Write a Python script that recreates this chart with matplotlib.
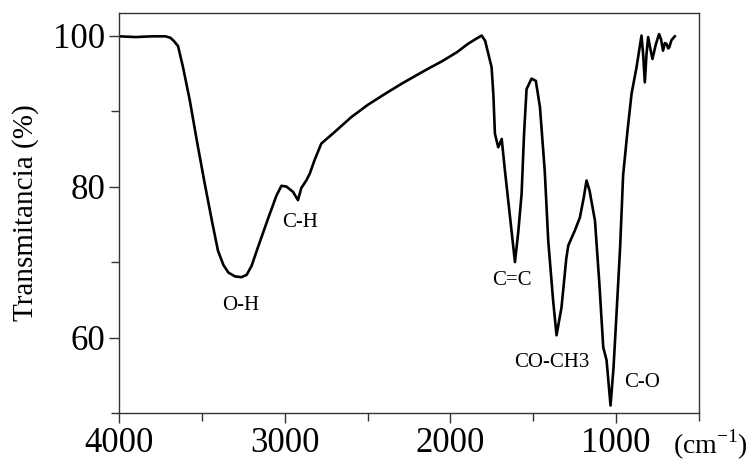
import matplotlib
matplotlib.use("Agg")
import matplotlib.pyplot as plt
from matplotlib.ticker import MultipleLocator

plt.rcParams['font.family'] = ['Liberation Serif', 'DejaVu Serif']
plt.rcParams['mathtext.fontset'] = 'custom'
plt.rcParams['mathtext.rm'] = 'Liberation Serif'

wavenumber = [4000, 3900, 3800, 3720, 3690, 3670, 3644, 3614, 3573, 3530, 3483, 3440, 3403,
              3370, 3340, 3300, 3262, 3230, 3200, 3161, 3100, 3050, 3020, 2990, 2950, 2920,
              2900, 2870, 2849, 2820, 2779, 2700, 2598, 2500, 2400, 2296, 2200, 2135,
              2050, 1960, 1894, 1850, 1811, 1790, 1751, 1740, 1731, 1711, 1690, 1670,
              1640, 1610, 1590, 1570, 1555, 1540, 1510, 1484, 1459, 1430, 1409, 1380,
              1359, 1329, 1300, 1288, 1248, 1218, 1195, 1178, 1160, 1127, 1100, 1077,
              1057, 1033, 1015, 997, 975, 957, 930, 906, 876, 846, 836, 826, 816, 806,
              795, 780, 760, 740, 728, 716, 705, 695, 685, 679, 665, 645]
transmittance = [99.9, 99.8, 99.9, 99.9, 99.7, 99.3, 98.6, 95.8, 91.4, 86.0, 80.4, 75.5, 71.5,
                 69.6, 68.6, 68.1, 68.0, 68.3, 69.5, 72.0, 75.8, 78.8, 80.1, 80.0, 79.3, 78.2,
                 79.8, 80.8, 81.7, 83.5, 85.7, 87.2, 89.2, 90.8, 92.2, 93.6, 94.8, 95.6,
                 96.6, 97.8, 98.9, 99.5, 100.0, 99.3, 95.8, 92.0, 87.0, 85.2, 86.3, 82.0,
                 76.0, 70.0, 74.0, 79.0, 87.0, 92.9, 94.3, 94.0, 90.5, 82.0, 72.8, 65.0,
                 60.3, 64.0, 70.5, 72.2, 74.2, 75.9, 78.5, 80.8, 79.5, 75.5, 67.0, 58.7,
                 57.0, 51.0, 56.0, 63.1, 72.0, 81.5, 87.5, 92.3, 95.8, 100.0, 97.5, 93.8,
                 97.5, 99.8, 98.5, 96.9, 98.8, 100.2, 99.5, 98.0, 99.0, 98.9, 98.3, 98.4,
                 99.4, 99.9]

band_labels = ["O-H", "C-H", "C=C", "CO-CH3", "C-O"]
band_x = [3264, 2910, 1630, 1389, 840]
band_y = [64.2, 75.3, 67.5, 56.7, 54.0]

x_ticks = [4000, 3000, 2000, 1000]
y_ticks = [60, 80, 100]

fig = plt.figure(figsize=(7.49, 4.61), dpi=100)
ax = fig.add_axes([0.159, 0.104, 0.774, 0.868])
ax.plot(wavenumber, transmittance, color='black', lw=1.9, solid_joinstyle='round')
ax.set_xlim(4000, 500)
ax.set_ylim(50, 103)
ax.set_xticks(x_ticks)
ax.set_yticks(y_ticks)
ax.xaxis.set_minor_locator(MultipleLocator(500))
ax.yaxis.set_minor_locator(MultipleLocator(10))
ax.tick_params(axis='both', which='major', direction='out', length=7, width=1,
               labelsize=25, color='#333333', top=False, right=False, pad=3)
ax.tick_params(axis='both', which='minor', direction='out', length=6, width=1,
               color='#333333', top=False, right=False)
for s in ax.spines.values():
    s.set_color('#333333')
    s.set_linewidth(1.0)
ax.set_ylabel("Transmitancia (%)", fontsize=21, labelpad=10)

for lab, xv, yv in zip(band_labels, band_x, band_y):
    ax.text(xv, yv, lab, fontsize=15, ha='center', va='center')

fig.text(0.948, 0.035, "(cm$^{\\mathregular{-1}}$)", fontsize=20, ha='center', va='center')

fig.savefig("out.png", dpi=100)
